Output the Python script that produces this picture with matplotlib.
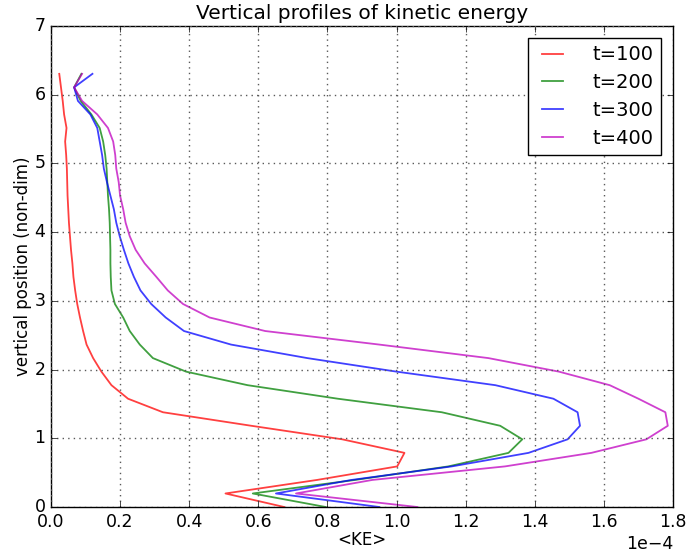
import matplotlib
matplotlib.use("Agg")
import matplotlib.pyplot as plt

plt.style.use("classic")
plt.rcParams["font.family"] = ["DejaVu Sans"]

# Sampling heights (non-dimensional)
height = [0.000, 0.197, 0.394, 0.591, 0.788, 0.985, 1.182, 1.379, 1.576, 1.773,
          1.970, 2.167, 2.364, 2.561, 2.758, 2.955, 3.152, 3.349, 3.546, 3.743,
          3.940, 4.137, 4.334, 4.531, 4.728, 4.925, 5.122, 5.319, 5.516, 5.713,
          5.910, 6.107, 6.304]

# Horizontally averaged kinetic energy, in units of 1e-4
ke_t100 = [0.675, 0.505, 0.770, 1.002, 1.023, 0.843, 0.580, 0.324, 0.223, 0.175,
           0.146, 0.122, 0.103, 0.093, 0.084, 0.076, 0.070, 0.065, 0.062, 0.058,
           0.055, 0.052, 0.050, 0.048, 0.047, 0.046, 0.044, 0.041, 0.045, 0.038,
           0.034, 0.029, 0.024]
ke_t200 = [0.795, 0.584, 0.880, 1.150, 1.324, 1.364, 1.300, 1.131, 0.830, 0.569,
           0.391, 0.295, 0.257, 0.228, 0.209, 0.185, 0.175, 0.173, 0.172, 0.172,
           0.171, 0.170, 0.168, 0.165, 0.163, 0.161, 0.157, 0.151, 0.141, 0.117,
           0.086, 0.067, 0.088]
ke_t300 = [0.950, 0.651, 0.870, 1.160, 1.382, 1.495, 1.531, 1.524, 1.454, 1.286,
           1.000, 0.742, 0.521, 0.385, 0.332, 0.290, 0.259, 0.240, 0.224, 0.211,
           0.199, 0.189, 0.182, 0.172, 0.162, 0.153, 0.148, 0.141, 0.134, 0.114,
           0.078, 0.067, 0.120]
ke_t400 = [1.060, 0.709, 0.930, 1.314, 1.564, 1.723, 1.785, 1.778, 1.700, 1.617,
           1.470, 1.266, 0.950, 0.620, 0.459, 0.382, 0.338, 0.305, 0.271, 0.245,
           0.228, 0.216, 0.209, 0.200, 0.196, 0.189, 0.186, 0.180, 0.165, 0.134,
           0.090, 0.067, 0.090]

labels = ["t=100", "t=200", "t=300", "t=400"]
colors = ["r", "g", "b", "m"]
KE_UNIT = 1e-4

fig = plt.figure(figsize=(6.86, 5.52), dpi=100, facecolor="white")
ax = fig.add_axes([0.0743, 0.0815, 0.9067, 0.8714])

for ke, lab, col in zip([ke_t100, ke_t200, ke_t300, ke_t400], labels, colors):
    ax.plot([v * KE_UNIT for v in ke], height, color=col, lw=1.3,
            alpha=0.75, label=lab)

ax.set_xlim(0, 1.8e-4)
ax.set_ylim(0, 7)
ax.set_xticks([i * 0.2e-4 for i in range(10)])
ax.ticklabel_format(axis="x", style="sci", scilimits=(0, 0), useMathText=False)
ax.grid(True, linestyle=":", color="0.35", lw=1.0)
ax.tick_params(labelsize=12.5)
ax.xaxis.get_offset_text().set_fontsize(12.5)

ax.set_title("Vertical profiles of kinetic energy", fontsize=14.5)
ax.set_xlabel("<KE>", fontsize=12, labelpad=0)
ax.set_ylabel("vertical position (non-dim)", fontsize=12, labelpad=2)

leg = ax.legend(loc="upper right", fontsize=14, handlelength=1.7,
                handletextpad=1.2, labelspacing=0.45, borderaxespad=0.6)
leg.get_frame().set_linewidth(1.0)

fig.savefig("out.png", dpi=100, facecolor="white")
